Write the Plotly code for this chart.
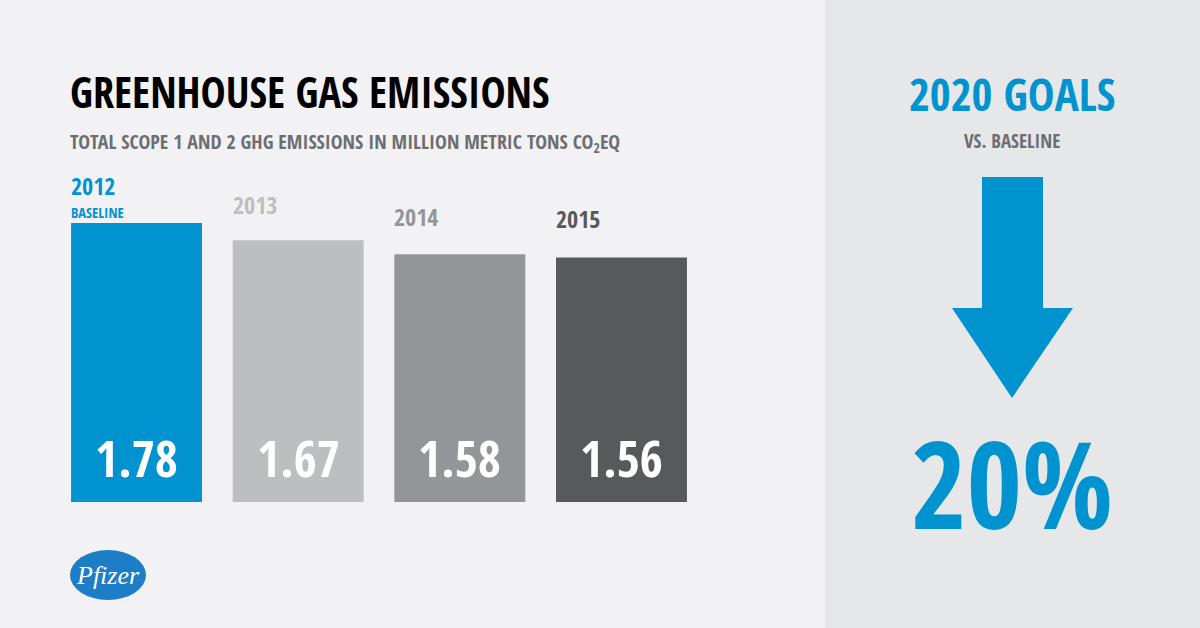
import plotly.graph_objects as go

years = ["2012", "2013", "2014", "2015"]
emissions = [1.78, 1.67, 1.58, 1.56]
value_labels = ["1.78", "1.67", "1.58", "1.56"]
bar_colors = ["#0093d0", "#bcbec0", "#939598", "#58595b"]
year_colors = ["#0093d0", "#bcbec0", "#939598", "#58595b"]

W, H = 1200, 628
FONT = "Open Sans Condensed, Roboto Condensed, sans-serif"
BLUE = "#0093d0"
GRAY_TXT = "#6d6e71"


def px(x):
    return x / W


def py(y):
    return 1 - y / H


fig = go.Figure()
fig.add_trace(go.Bar(
    x=years, y=emissions,
    marker=dict(color=bar_colors, line=dict(width=0)),
    hoverinfo="skip",
))

# bars 131px wide on a ~161.7px category step, baseline at y=502
x0, x1 = 55.7, 702.3
fig.update_layout(
    width=W, height=H,
    margin=dict(l=0, r=0, t=0, b=0),
    paper_bgcolor="#f2f2f4",
    plot_bgcolor="rgba(0,0,0,0)",
    bargap=0.19,
    showlegend=False,
    xaxis=dict(domain=[px(x0), px(x1)], range=[-0.5, 3.5], visible=False,
               type="category"),
    yaxis=dict(domain=[py(502), py(502 - 2.0 * 156.74)], range=[0, 2.0],
               visible=False),
)

# right panel
fig.add_shape(type="rect", xref="paper", yref="paper",
              x0=px(825), x1=1, y0=0, y1=1,
              fillcolor="#e6e7e8", line=dict(width=0), layer="below")

# arrow
pts = [(982, 177), (1043, 177), (1043, 308), (1073, 308), (1012, 398),
       (952, 308), (982, 308)]
path = "M " + " L ".join(f"{px(a):.5f},{py(b):.5f}" for a, b in pts) + " Z"
fig.add_shape(type="path", xref="paper", yref="paper", path=path,
              fillcolor=BLUE, line=dict(width=0))

ann = []
# title and subtitle
ann.append(dict(x=px(68), y=py(91), xref="paper", yref="paper",
                xanchor="left", yanchor="middle",
                text="GREENHOUSE GAS EMISSIONS",
                font=dict(family=FONT, size=42.3, color="#000000", weight=700),
                showarrow=False))
ann.append(dict(x=px(68), y=py(142), xref="paper", yref="paper",
                xanchor="left", yanchor="middle",
                text="TOTAL SCOPE 1 AND 2 GHG EMISSIONS IN MILLION METRIC TONS CO<sub>2</sub>EQ",
                font=dict(family=FONT, size=19.9, color=GRAY_TXT, weight=700),
                showarrow=False))

# year labels above bars
left_off = -(1 - 0.19) / 2
shifts = [38, 36, 37.5, 39]
for i, (yr, v) in enumerate(zip(years, emissions)):
    if i == 0:
        ann.append(dict(x=i + left_off, y=v, xref="x", yref="y",
                        xanchor="left", yanchor="middle", yshift=11,
                        xshift=-2,
                        text="BASELINE",
                        font=dict(family=FONT, size=14.5, color=year_colors[i], weight=700),
                        showarrow=False))
    ann.append(dict(x=i + left_off, y=v, xref="x", yref="y",
                    xanchor="left", yanchor="middle", yshift=shifts[i],
                    xshift=-2,
                    text=yr,
                    font=dict(family=FONT, size=24, color=year_colors[i], weight=700),
                    showarrow=False))
    # value label near bar base
    ann.append(dict(x=i, y=0, xref="x", yref="y",
                    xanchor="center", yanchor="middle", yshift=44,
                    text=value_labels[i],
                    font=dict(family=FONT, size=50, color="#ffffff", weight=700),
                    showarrow=False))

# right panel texts
ann.append(dict(x=px(1012), y=py(93), xref="paper", yref="paper",
                xanchor="center", yanchor="middle", text="2020 GOALS",
                font=dict(family=FONT, size=45, color=BLUE, weight=700),
                showarrow=False))
ann.append(dict(x=px(1012), y=py(141), xref="paper", yref="paper",
                xanchor="center", yanchor="middle", text="VS. BASELINE",
                font=dict(family=FONT, size=19, color=GRAY_TXT, weight=700),
                showarrow=False))
ann.append(dict(x=px(1012), y=py(482), xref="paper", yref="paper",
                xanchor="center", yanchor="middle", text="20%",
                font=dict(family=FONT, size=120, color=BLUE, weight=700),
                showarrow=False))

# logo
fig.add_shape(type="circle", xref="paper", yref="paper",
              x0=px(70), x1=px(146), y0=py(600), y1=py(550),
              fillcolor="#1d7dc6", line=dict(width=0))
ann.append(dict(x=px(108), y=py(575), xref="paper", yref="paper",
                xanchor="center", yanchor="middle", text="<i>Pfizer</i>",
                font=dict(family="Liberation Serif, serif", size=26, color="#ffffff"),
                showarrow=False))

fig.update_layout(annotations=ann)
fig.write_html("out.html", config={"displayModeBar": False},
               post_script="document.body.style.margin='0';")
